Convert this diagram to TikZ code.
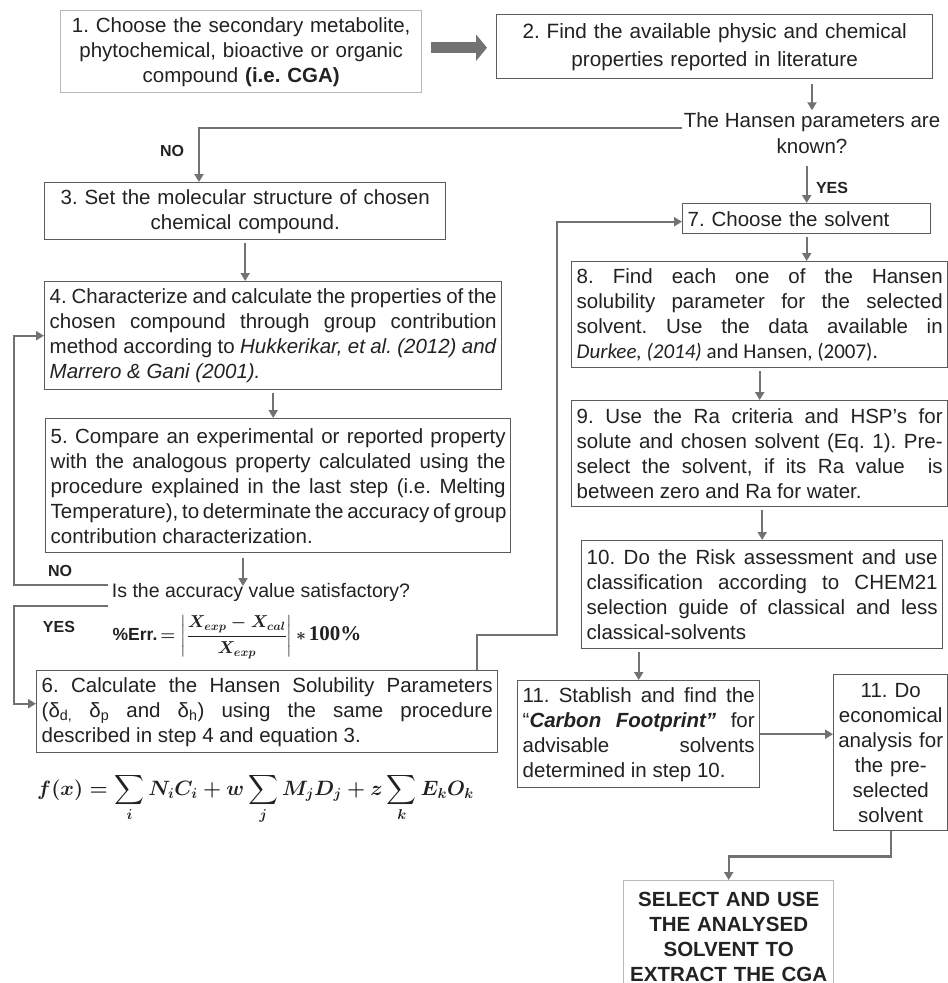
\documentclass[tikz,border=0pt]{standalone}
\usepackage{amsmath}
\usepackage{fontspec}
\setmainfont{Liberation Sans}
\newfontfamily\calib{Carlito}
\newfontfamily\serifb{Liberation Serif}
\usetikzlibrary{arrows.meta}
\definecolor{ln}{HTML}{727272}
\definecolor{bd}{HTML}{5C5C5C}
\definecolor{lbd}{HTML}{B8B8B8}
\definecolor{tx}{HTML}{222222}
\frenchspacing
\newcommand{\jl}[2]{\makebox[#1pt][s]{#2}}
\newcommand{\errformula}{\textbf{\%Err.}\,{\boldmath$= \left\vert\dfrac{X_{exp}-X_{cal}}{X_{exp}}\right\vert * $}\,{\serifb\bfseries\fontsize{21}{24}\selectfont 100\%}}
\newcommand{\fxformula}{{\boldmath$\displaystyle f(x)=\sum_i N_iC_i + w\sum_j M_jD_j + z\sum_k E_kO_k$}}
\begin{document}
\begin{tikzpicture}[x=1pt,y=-1pt,
  every node/.style={text=tx},
  boxst/.style 2 args={draw=bd, line width=1.4pt, anchor=north west, inner xsep=5pt, inner ysep=0pt,
     minimum width=#1pt, minimum height=#2pt, font=\fontsize{20.5}{25}\selectfont},
  ctr/.style={align=center, text width=#1pt},
  jus/.style={align=left},
  arr/.style={draw=ln, line width=2.4pt, -{Triangle[length=8pt,width=9pt]}, shorten <=3pt},
  big/.style={draw=ln, line width=11pt, -{Triangle[length=11pt,width=26pt]}},
  lab/.style={font=\fontsize{16}{18}\selectfont\bfseries},
]
\useasboundingbox (0,0) rectangle (948,983);
\fill[white] (0,0) rectangle (948,983);

% boxes
\node[boxst={361}{82}, ctr=351, draw=lbd] (b1) at (60,10)
  {1. Choose the secondary metabolite,\\ phytochemical, bioactive or organic\\ compound \textbf{(i.e. CGA)}};
\node[boxst={436}{64}, ctr=426, font=\fontsize{20.7}{28}\selectfont] (b2) at (496,14)
  {2. Find the available physic and chemical\\ properties reported in literature};
\node[font=\fontsize{20.5}{26}\selectfont, align=center, inner sep=2pt] (q1) at (812,133)
  {The Hansen parameters are\\ known?};
\node[boxst={401}{57}, ctr=391] (b3) at (44,182)
  {3. Set the molecular structure of chosen\\ chemical compound.};
\node[boxst={457}{108}, jus] (b4) at (44,281)
  {\jl{447}{4. Characterize and calculate the properties of the}\\
   \jl{447}{chosen compound through group contribution}\\
   \jl{447}{method according to \textit{Hukkerikar, et al. (2012) and}}\\
   \makebox[447pt][l]{\textit{Marrero \& Gani (2001).}}};
\node[boxst={465}{134}, jus] (b5) at (45,418)
  {\jl{455}{5. Compare an experimental or reported property}\\
   \jl{455}{with the analogous property calculated using the}\\
   \jl{455}{procedure explained in the last step (i.e. Melting}\\
   \jl{455}{Temperature), to determinate the accuracy of group}\\
   \makebox[455pt][l]{contribution characterization.}};
\node[font=\fontsize{19.5}{24}\selectfont, inner sep=1pt] (q2) at (261,592)
  {Is the accuracy value satisfactory?};
\node[font=\fontsize{17.5}{21}\selectfont, inner sep=0pt] (err) at (237,637) {\errformula};
\node[boxst={461}{82}, jus] (b6) at (36,670)
  {\jl{451}{6. Calculate the Hansen Solubility Parameters}\\
   \jl{451}{(δ\textsubscript{d,} δ\textsubscript{p} and δ\textsubscript{h}) using the same procedure}\\
   \makebox[451pt][l]{described in step 4 and equation 3.}};
\node[anchor=west, inner sep=0pt, font=\fontsize{20}{24}\selectfont] (fx) at (37,799) {\fxformula};

\node[boxst={248}{30}, align=left, text width=238pt] (b7) at (682,203)
  {7. Choose the solvent};
\node[boxst={376}{106}, jus] (b8) at (571,261)
  {\jl{366}{8. Find each one of the Hansen}\\
   \jl{366}{solubility parameter for the selected}\\
   \jl{366}{solvent. Use the data available in}\\
   \makebox[366pt][l]{\calib\fontsize{21}{25}\selectfont\textit{Durkee, (2014)} and Hansen, (2007).}};
\node[boxst={376}{106}, jus] (b9) at (571,400)
  {\jl{366}{9. Use the Ra criteria and HSP's for}\\
   \jl{366}{solute and chosen solvent (Eq. 1). Pre-}\\
   \jl{366}{select the solvent, if its Ra value\ \ is}\\
   \makebox[366pt][l]{between zero and Ra for water.}};
\node[boxst={361}{108}, jus] (b10) at (581,540)
  {\jl{351}{10. Do the Risk assessment and use}\\
   \jl{351}{classification according to CHEM21}\\
   \jl{351}{selection guide of classical and less}\\
   \makebox[351pt][l]{classical-solvents}};
\node[boxst={242}{107}, jus] (b11) at (517,680)
  {\jl{232}{11. Stablish and find the}\\
   \jl{232}{``\textbf{\textit{Carbon Footprint''}} for}\\
   \jl{232}{advisable solvents}\\
   \makebox[232pt][l]{determined in step 10.}};
\node[boxst={114}{156}, ctr=112, inner xsep=1pt] (b12) at (833,674)
  {11. Do\\ economical\\ analysis for\\ the pre-\\ selected\\ solvent};
\node[boxst={210}{112}, ctr=200, draw=lbd, font=\fontsize{20.5}{25}\selectfont\bfseries] (fin) at (623,880)
  {SELECT AND USE\\ THE ANALYSED\\ SOLVENT TO\\ EXTRACT THE CGA};

% labels
\node[lab] (no1) at (172,151) {NO};
\node[lab] (yes1) at (832,188) {YES};
\node[lab] (no2) at (60,571) {NO};
\node[lab] (yes2) at (59,627) {YES};

% coordinates
\coordinate (noX) at (199,128);
\coordinate (a5) at (243,586);
\coordinate (noL) at (108,585);
\coordinate (yesL) at (108,606);
\coordinate (c6) at (477,635);
\coordinate (c7) at (557,635);

% connectors
\draw[big] ([xshift=9pt,yshift=4pt]b1.east) -- ([xshift=-9pt,yshift=-1pt]b2.west);
\draw[arr, shorten <=5pt] (b2.south -| q1.north) -- (q1.north);
\draw[arr, shorten <=0pt] ([yshift=5pt]q1.west) -| (b3.north -| noX);
\draw[arr, shorten <=10pt] (q1.south -| b7.north) -- (b7.north);
\draw[arr] (b3.south) -- (b3.south |- b4.north);
\draw[arr] (b4.south) -- (b4.south |- b5.north);
\draw[arr, shorten <=5pt] (b5.south -| a5) -- (a5);
\draw[arr, shorten <=0pt] (noL) -- ++(-94,0) |- (b4.west);
\draw[arr, shorten <=0pt] (yesL) -- ++(-94,0) |- ([yshift=8pt]b6.west);
\draw[arr, shorten <=0pt] (b6.north -| c6) -- (c6) -- (c7) |- ([yshift=-3pt]b7.west);
\draw[arr] (b7.south) -- (b7.south |- b8.north);
\draw[arr] (b8.south) -- (b8.south |- b9.north);
\draw[arr] (b9.south -| b10.north) -- (b10.north);
\draw[arr] (b10.south -| b11.north) -- (b11.north);
\draw[arr, shorten <=0pt] (b11.east) -- (b11.east -| b12.west);
\draw[arr, shorten <=0pt] (b12.south) -- ++(0,25) -| (fin.north);
\end{tikzpicture}
\end{document}
